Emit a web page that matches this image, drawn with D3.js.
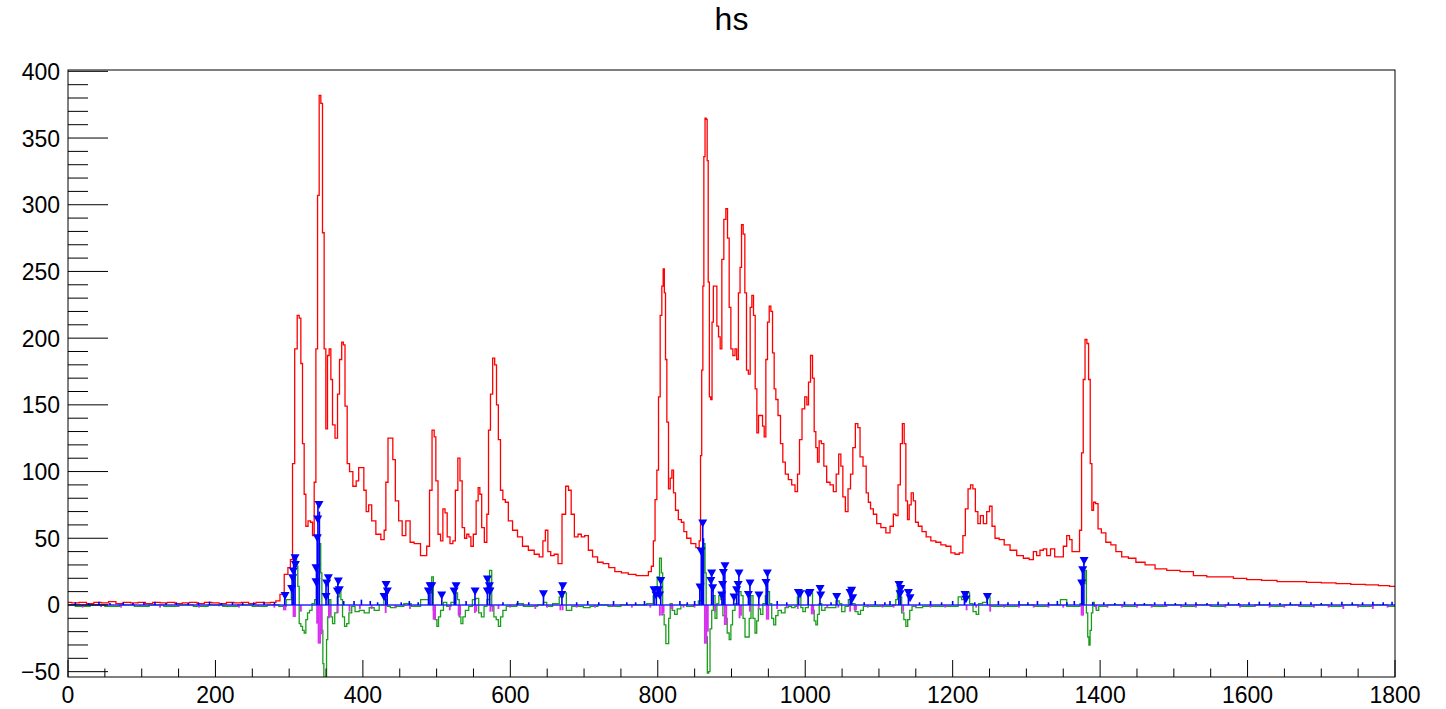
<!DOCTYPE html>
<html>
<head>
<meta charset="utf-8">
<script src="https://cdn.jsdelivr.net/npm/d3@7"></script>
<style>
  body { margin: 0; background: #fff; }
  text { font-family: "Liberation Sans", Arial, Helvetica, sans-serif; }
</style>
</head>
<body>
<script>
var width = 1446, height = 709;

// original spectrum (red) as [x, counts]
var redSeries = [[0,2],[10,1.5],[20,2],[30,1],[40,2],[50,1.5],[60,2.5],[70,1],[80,2],[90,1.5],[100,2],[110,1],[120,2],[130,1.5],[140,2],[150,1],[160,1.5],[170,2],[180,1],[190,2],[200,1.5],[210,1],[220,2],[230,1.5],[240,2],[250,1],[260,2],[270,1.5],[279,2],[285,3],[290,8],
  [296.6,23],[300,28],[303.4,34],[305.7,106],[309.3,192],[312.5,217],[314.7,215],[317,181],[319.2,121],[321.5,83],[323.8,59],[327.4,63],[330.6,62],[332.8,52],[335.1,92],[337.4,192],[339.6,307],[341.8,382],[344.1,376],[346.3,279],[348.6,192],[350.9,132],[353.1,187],[355.4,192],[357.7,169],[359.9,135],[364.5,125],[366.7,158],[369.9,184],[372.6,197],[374.4,195],[377.1,149],[380.3,106],[383.5,100],[389.3,89],[392.5,93],[396.1,103],[399.7,103],[402.9,86],[406,70],[409.7,75],[414.2,63],[421,53],[427.7,49],[430,56],[432.3,92],[435.8,125],[439,125],[442.2,109],[445.8,78],[451.2,63],[455.4,52],[461.1,63],[467,47],[472,46],[484.3,37],[488.8,44],[492,86],[495.6,131],[497.8,126],[500.1,93],[503.7,53],[507,48],[510,72],[512.8,69],[515.9,51],[520.4,46],[523.7,48],[527.2,86],[530.4,110],[533,93],[536.3,58],[539.5,50],[542.2,53],[545.4,51],[547.6,44],[552,53],[555.2,78],[557.5,88],[559.8,83],[562.5,58],[567,47],[569.3,68],[571.5,131],[574.6,158],[577.5,185],[580,180],[582.5,150],[585,124],[588.3,86],[591.4,79],[595,77],[599.6,63],[606.4,56],[613.1,51],[619.9,44],[629,41],[635.8,38],[642.6,36],[645.7,48],[649.3,56],[652.5,40],[657,37],[662,38],[667.4,31],[672.8,68],[677.3,89],[680.5,86],[684.6,68],[689.1,51],[694.5,53],[698,51],[703.6,52],[708.1,41],[715,36],[721.7,32],[730,31],[737,28],[746.5,25],[755,24],[765,23],[776,22],[785,22],[789.5,25],[793,29],[795,48],[797.6,79],[799.9,101],[802.1,156],[804.4,217],[806.6,239],[808,252],[809.8,234],[811.2,184],[813.4,137],[815.7,87],[818,95],[820.2,101],[822.5,84],[825.6,71],[830.2,64],[833.8,62],[837,55],[841.5,50],[848.3,46],[855,43],[857.3,48],[858.7,112],[860.5,176],[861.8,239],[863.2,336],[865,365],[866.3,364],[867.7,333],[869.1,242],[870.9,156],[872.7,154],[874.5,212],[876.3,239],[879,239],[881.3,209],[883.5,201],[885.8,192],[888,259],[891.2,289],[893.5,297],[895.7,275],[898,223],[900.3,192],[903.4,187],[906.1,192],[908,184],[910.7,234],[912.5,253],[914.7,285],[917,278],[919.2,234],[921.5,176],[924.2,173],[926.5,223],[928.7,232],[931,217],[933.3,162],[935.5,129],[937.8,142],[941,142],[943.2,134],[945.5,126],[947.7,184],[950,212],[952.3,224],[954.5,220],[956.8,189],[959,162],[961.3,154],[964.9,142],[968,121],[971.2,107],[974.8,98],[979.4,94],[983.9,90],[988.4,85],[990.7,98],[993.8,124],[997.5,147],[1001.1,156],[1003.3,150],[1005.6,167],[1008.8,187],[1011,170],[1013.3,130],[1015.5,118],[1017.8,107],[1020,123],[1023.7,121],[1026.8,104],[1031.4,92],[1035.9,90],[1040.4,85],[1043.6,98],[1047.2,113],[1049.5,104],[1052.6,81],[1056.2,70],[1059.9,87],[1063,98],[1066.2,118],[1069.8,136],[1073,133],[1075.7,111],[1081.1,104],[1084.3,84],[1087,77],[1090.2,72],[1094.7,68],[1099.2,61],[1106,58],[1112.8,54],[1117.3,59],[1121.8,68],[1124.1,67],[1127.7,90],[1130.4,121],[1133.1,136],[1135.4,121],[1137.6,78],[1139.9,64],[1142.2,75],[1145.3,84],[1148,78],[1151.2,62],[1155.7,59],[1161.1,55],[1167,51],[1173.8,48],[1180.6,47],[1187.4,45],[1194.2,44],[1201,39],[1205.5,38],[1212.3,39],[1215.4,52],[1219,72],[1222.7,87],[1225.8,90],[1229,87],[1232.6,70],[1235.8,61],[1239.4,67],[1243.9,61],[1248.4,70],[1251.6,74],[1255.2,59],[1259.7,50],[1266.5,49],[1273.3,45],[1282.4,41],[1291.4,37],[1300.4,35],[1307.2,34],[1311.7,40],[1316,37],[1320.8,41],[1325.3,42],[1329.8,37],[1335.7,42],[1341.1,36],[1347.9,36],[1352.4,44],[1357,52],[1360.1,49],[1363.7,40],[1370.5,40],[1373.7,56],[1376,114],[1378.2,169],[1380.9,199],[1383.2,196],[1385.5,169],[1387.7,106],[1390,71],[1392.2,77],[1395.4,76],[1399,57],[1404.4,54],[1411.2,47],[1418,45],[1424.8,40],[1433.8,36],[1442.9,35],[1454.2,32],[1467.8,30],[1481.3,27],[1499.4,26],[1517.5,25],[1535.6,22],[1553.7,21],[1571.8,21],[1589.8,20],[1607.9,19],[1630,18.5],[1650,17.5],[1670,17.5],[1690,17],[1710,16.5],[1730,16],[1750,15.5],[1770,15],[1785,14.5],[1800,14]];

// green curve (goes negative under each peak)
var greenSeries = [[0,0],[20,-1],[40,0],[60,-1],[80,0],[100,-1],[120,0],[140,-1],[160,0],[180,-1],[200,0],[220,-1],[240,0],[260,-1],[280,0],[292,-1],[300,4],[305.7,14],[309.3,34],[311,29],[312.5,14],[314.7,-14],[317,-16],[319.3,-19],[321.5,-21],[323.8,-11],[326,-6],[329.2,-4],[332.8,1],[336.4,4],[339.6,16],[341.9,46],[343.7,24],[345,-19],[346.4,-44],[347.7,-58],[350,-58],[351.4,-26],[353.2,-9],[355.4,4],[357.7,-9],[360,-14],[363.6,-6],[366.7,6],[369,11],[371.3,4],[373.5,-9],[376.7,-16],[379.4,-14],[382.6,-6],[387.1,-1],[391.6,-5],[398.4,-4],[405.2,-6],[412,-2],[418.7,-4],[425.5,0],[431.4,4],[434.6,-1],[440,-2],[450,-1],[461,1],[470,-1],[486.6,4],[492,9],[494.7,21],[496.5,-4],[499.2,-11],[501.5,-16],[503.7,-9],[507,-4],[511.5,2],[516,-1],[522.8,2],[527.3,9],[529.5,4],[531.8,-9],[534.1,-14],[537.2,-9],[540.8,-4],[546.3,-1],[550.8,4],[555.3,5],[558.9,-6],[562.5,-9],[566.2,-1],[570.2,4],[573.4,26],[576.1,-1],[579.3,-9],[582.4,-11],[585.2,-16],[588.3,-9],[591.5,-4],[597.4,-1],[604.2,-1],[613.2,1],[622.2,-1],[631.3,-1],[642.6,0],[647.1,2],[651.6,-1],[663,1],[669.7,6],[674.2,9],[677.8,-4],[681,-4],[685.5,-1],[694.6,-1],[703.6,-2],[712.7,-1],[725,0],[740,-1],[760,0],[780,0],[790,1],[797.6,7],[800.8,21],[804,35],[805.8,24],[807.5,-7],[809.8,-15],[812.1,-29],[813.9,-29],[815.7,-10],[818,1],[821.1,-4],[824.7,-7],[828,-3],[834.7,0],[843.7,-1],[852.8,0],[857.3,3],[860.9,15],[863.2,46],[865,24],[866.3,-24],[868.1,-51],[869.9,-50],[871.8,-18],[874.5,-4],[876.3,7],[879,-10],[881.3,1],[884.4,7],[886.7,4],[889.9,-8],[892.6,-10],[895.7,-21],[898,-26],[900.3,-15],[902.5,-4],[907,1],[911.6,10],[914.3,7],[917,-10],[919.7,-24],[922.9,-24],[925.1,-10],[927.8,7],[930.5,-10],[933.3,-21],[935.1,-12],[937.8,-3],[941,-7],[944.1,1],[947.7,7],[950,10],[953.2,1],[955.9,-10],[958.6,-15],[961.3,-8],[964.9,-4],[970.3,-6],[974.9,-2],[979,-1],[984,-2],[988,-1],[990.7,6],[993,9],[995.2,-2],[998.4,-5],[1002,-2],[1006.5,9],[1008.8,9],[1011,-4],[1013.3,-12],[1015.5,-15],[1017.8,-7],[1020.1,1],[1024.6,-4],[1029.1,-2],[1038.2,-2],[1045,3],[1047.2,1],[1051.7,-5],[1056.2,-1],[1060.8,4],[1065.3,1],[1069.8,-5],[1073.4,-7],[1076.6,-4],[1081.1,-1],[1100,-1],[1115,-1],[1121.8,0],[1123.8,4],[1126.3,14],[1129.5,6],[1132.2,-6],[1135.4,-11],[1137.6,-16],[1140.4,-11],[1143.1,-4],[1146.7,-1],[1153.5,-2],[1165,-1],[1180,-1],[1195,-1],[1205,-1],[1210,6],[1214.5,4],[1219,6],[1221,9],[1225,1],[1230.3,-5],[1233.5,-7],[1237,1],[1243.9,2],[1248.4,6],[1253,-1],[1260,-1],[1280,-1],[1300,0],[1320,-1],[1340,0],[1352.4,4],[1357,-1],[1370.5,-1],[1375,1],[1378.2,16],[1380.5,26],[1382.3,-6],[1384.1,-24],[1385.5,-30],[1387.3,-19],[1389.1,-6],[1391,2],[1393.3,-1],[1396.3,-4],[1400,-1],[1420,0],[1440,-1],[1460,0],[1480,-1],[1500,0],[1520,-1],[1540,0],[1560,-1],[1580,0],[1600,-1],[1620,0],[1640,-1],[1660,0],[1680,-1],[1700,0],[1720,-1],[1740,0],[1760,-1],[1780,0],[1800,-1]];

// magenta bins (negative parts only)
var magentaBins = [[20,-2],[45,-1.5],[72,-2],[98,-1],[125,-2],[150,-1.5],[178,-2],[205,-1],[232,-2],[258,-1.5],[280,-2],[293,-4],[295,-4],[306,-9],[308,-9],[316,-5],[338,-14],[340,-29],[342,-29],[344,-22],[354,-10],[356,-8],[366,-6],[382,-5],[396,-3],[412,-3],[431,-6],[444,-2],[464,-3],[496,-11],[498,-11],[518,-4],[530,-8],[532,-8],[552,-6],[554,-5],[573,-5],[576,-5],[584,-3],[600,-2],[634,-3],[650,-2],[668,-4],[671,-4],[690,-2],[715,-2],[740,-1.5],[765,-2],[790,-2],[803,-8],[806,-8],[808,-6],[818,-3],[820,-3],[835,-2],[850,-2],[864,-29],[866,-29],[868,-20],[878,-5],[891,-15],[893,-15],[911,-10],[913,-8],[925,-5],[937,-3],[948,-11],[950,-11],[962,-3],[975,-2],[990,-3],[1009,-7],[1011,-7],[1030,-2],[1045,-2],[1061,-5],[1067,-4],[1069,-4],[1085,-2],[1105,-2],[1120,-2],[1133,-5],[1150,-2],[1170,-2],[1190,-2],[1219,-4],[1232,-2],[1251,-5],[1270,-2],[1290,-2],[1310,-2],[1330,-2],[1350,-2],[1375,-8],[1377,-8],[1395,-3],[1410,-2],[1430,-2],[1450,-2],[1470,-2],[1490,-1.5],[1510,-2],[1530,-2],[1550,-1.5],[1570,-2],[1590,-2],[1610,-1.5],[1630,-2],[1650,-2],[1670,-1.5],[1690,-2],[1710,-2],[1730,-3],[1750,-2],[1770,-3],[1790,-2]];

// blue spikes above the zero line
var blueSpikes = [[10,2],[28,1.5],[42,2.5],[57,1.5],[75,2],[88,1.5],[103,2],[118,2.5],[133,1.5],[147,2],[163,1.5],[177,2],[192,2.5],[208,1.5],[223,2],[237,1.5],[252,2],[266,2.5],[280,2],[294,7],[304,20],[306,36],[308,30],[337,28],[338,50],[339,76],[341,70],[350,16],[353,20],[366,17],[374,3],[388,3],[398,4],[410,3],[420,2],[431,15],[433,10],[452,2],[463,3],[475,2],[489,10],[491,14],[494,14],[507,7],[524,10],[526,14],[540,3],[552,10],[569,19],[572,14],[590,2],[610,3],[625,2],[645,8],[670,14],[690,2],[705,3],[720,2],[740,3],[758,2],[770,2],[782,3],[795,11],[798,7],[804,18],[830,3],[840,2],[850,3],[857,13],[859,40],[861,62],[862,50],[873,23],[875,12],[887,7],[889,24],[891,29],[903,6],[907,11],[910,24],[923,8],[925,16],[937,7],[947,17],[949,24],[962,3],[975,2],[991,9],[1004,9],[1020,12],[1035,2],[1043,6],[1061,9],[1063,11],[1080,2],[1095,3],[1108,2],[1115,3],[1127,15],[1129,8],[1140,9],[1155,2],[1170,3],[1185,2],[1200,3],[1216,8],[1230,2],[1247,6],[1262,3],[1275,2],[1290,3],[1302,2],[1315,3],[1330,2],[1342,3],[1355,2],[1365,3],[1375,16],[1376,26],[1378,34],[1390,2],[1405,2],[1420,1.5],[1433,2.5],[1447,2],[1460,1.5],[1474,2],[1488,2.5],[1502,1.5],[1516,2],[1530,2],[1545,1.5],[1560,2.5],[1574,2],[1588,1.5],[1602,2],[1616,2.5],[1630,2],[1644,1.5],[1658,2],[1672,2.5],[1686,2],[1700,1.5],[1714,2],[1728,2.5],[1742,2],[1756,2],[1770,2.5],[1784,2],[1796,2.5]];

// found peaks (blue triangles)
var peakMarks = [[294.4,6.7],[303.4,12],[304.8,20],[305.7,25],[308,35],[308.5,30],[336.4,27.5],[336.4,17],[338.2,50],[338.7,64],[340.5,75],[350,6],[350.9,16],[353.2,20],[365.4,10],[366.7,17.5],[368,11],[428.7,6],[431.4,15],[433.2,10],[488.8,10],[491.1,14],[493.5,14],[506.9,7],[523.7,10],[526.4,14],[552.2,10],[568.9,19],[568.9,10],[571.6,14],[572.5,10],[644.9,8],[669.7,7.5],[671.1,14],[794.9,11],[797.6,7],[800.8,11],[802.5,7],[804,18],[857.3,13],[858.7,40],[861,61],[873.1,23.5],[874.5,12.5],[872,18],[886.7,7],[888,15],[889,24],[891.2,29],[903.4,5.5],[907,11],[909,15],[910.2,23.5],[922.9,7.5],[925.1,16],[937.3,7],[946.8,16.5],[948.6,23.5],[990.7,9],[993,8],[1004.2,8],[1006.5,9],[1020.1,12],[1021,7],[1042.7,6],[1060.8,9],[1063,10.6],[1064.4,5],[1127.2,15],[1128.6,8],[1129.5,12],[1139.9,9],[1142.2,5],[1216.8,7.5],[1218,4],[1247.1,6],[1375,16],[1376.4,26],[1378.2,33]];

var xTicks = [0, 200, 400, 600, 800, 1000, 1200, 1400, 1600, 1800];
var yTicks = [-50, 0, 50, 100, 150, 200, 250, 300, 350, 400];

var svg = d3.select('body').append('svg').attr('width', width).attr('height', height);

var padL = 68, padR = 1395, padT = 70, padB = 677;
var x = d3.scaleLinear().domain([0, 1800]).range([padL, padR]);
var y = d3.scaleLinear().domain([-54, 401]).range([padB, padT]);

svg.append('clipPath').attr('id', 'frame')
  .append('rect').attr('x', padL).attr('y', padT).attr('width', padR - padL).attr('height', padB - padT);

// title
svg.append('text').attr('x', (padL + padR) / 2).attr('y', 30)
  .attr('text-anchor', 'middle').attr('font-size', 32).text('hs');

var plot = svg.append('g').attr('clip-path', 'url(#frame)');
// histogram-like steps
var line = d3.line().curve(d3.curveStep)
  .x(function(d){ return x(d[0]); }).y(function(d){ return y(d[1]); });

// red spectrum
plot.append('path').datum(redSeries).attr('d', line)
  .attr('fill', 'none').attr('stroke', '#ff0000').attr('stroke-width', 1.3);

// green
plot.append('path').datum(greenSeries).attr('d', line)
  .attr('fill', 'none').attr('stroke', '#1a9e1a').attr('stroke-width', 1.3);

// magenta bins
plot.selectAll('rect.mag').data(magentaBins).join('rect').attr('class', 'mag')
  .attr('x', function(d){ return x(d[0]) - 1; })
  .attr('width', function(d){ return x(d[0] + 2.5) - x(d[0]); })
  .attr('y', y(0))
  .attr('height', function(d){ return y(d[1]) - y(0); })
  .attr('fill', '#d92ff0');

// blue zero line and spikes
plot.append('line').attr('x1', x(0)).attr('x2', x(1800)).attr('y1', y(0)).attr('y2', y(0))
  .attr('stroke', '#2424ff').attr('stroke-width', 1.6);
plot.selectAll('line.spk').data(blueSpikes).join('line').attr('class', 'spk')
  .attr('x1', function(d){ return x(d[0]); }).attr('x2', function(d){ return x(d[0]); })
  .attr('y1', y(0)).attr('y2', function(d){ return y(d[1]); })
  .attr('stroke', '#0000ff').attr('stroke-width', 1.6);

// peak markers, triangle pointing down
plot.selectAll('path.mk').data(peakMarks).join('path').attr('class', 'mk')
  .attr('transform', function(d){ return 'translate(' + x(d[0]) + ',' + y(d[1]) + ')'; })
  .attr('d', 'M-4.5,-4L4.5,-4L0,4Z')
  .attr('fill', '#0000ff');

// frame
svg.append('rect').attr('x', padL).attr('y', padT).attr('width', padR - padL).attr('height', padB - padT)
  .attr('fill', 'none').attr('stroke', '#000').attr('stroke-width', 1);

// y axis ticks (inside, pointing right)
var yMinor = d3.range(-50, 401, 10);
svg.selectAll('line.ytick').data(yMinor).join('line').attr('class', 'ytick')
  .attr('x1', padL).attr('x2', function(d){ return padL + (d % 50 === 0 ? 40 : 20); })
  .attr('y1', function(d){ return y(d); }).attr('y2', function(d){ return y(d); })
  .attr('stroke', '#000').attr('stroke-width', 1);
svg.selectAll('text.ylab').data(yTicks).join('text').attr('class', 'ylab')
  .attr('x', 60).attr('y', function(d){ return y(d) + 8.5; })
  .attr('text-anchor', 'end').attr('font-size', 23)
  .text(function(d){ return d3.format('d')(d); });

// x axis ticks (inside, pointing up)
var xMinor = d3.range(0, 1801, 50);
svg.selectAll('line.xtick').data(xMinor).join('line').attr('class', 'xtick')
  .attr('x1', function(d){ return x(d); }).attr('x2', function(d){ return x(d); })
  .attr('y1', padB).attr('y2', function(d){ return padB - (d % 200 === 0 ? 17 : 8.5); })
  .attr('stroke', '#000').attr('stroke-width', 1);
svg.selectAll('text.xlab').data(xTicks).join('text').attr('class', 'xlab')
  .attr('x', function(d){ return x(d); }).attr('y', 703)
  .attr('text-anchor', 'middle').attr('font-size', 23)
  .text(function(d){ return d; });

console.log('ready..');
</script>
</body>
</html>
